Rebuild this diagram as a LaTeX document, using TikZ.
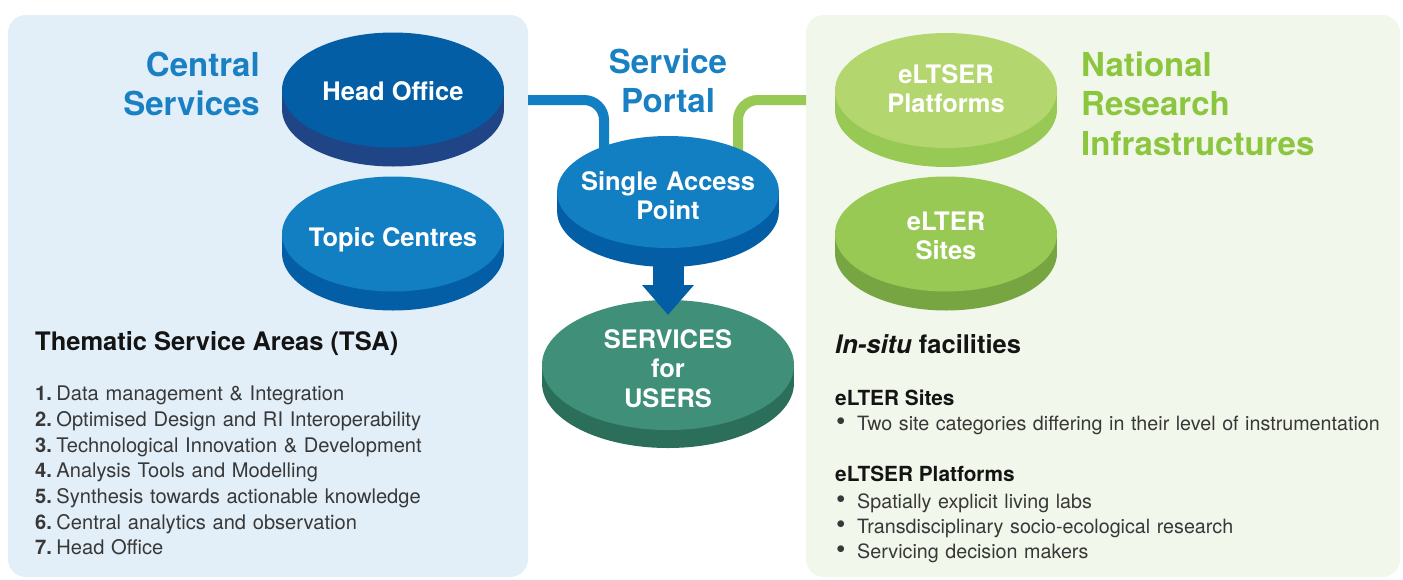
\documentclass[tikz,border=0pt]{standalone}
\usepackage{fontspec}
\setmainfont{TeX Gyre Heros}
\usetikzlibrary{arrows.meta}
\definecolor{lpbg}{HTML}{E3EFF8}
\definecolor{rpbg}{HTML}{F1F7EB}
\definecolor{dblue}{HTML}{045EA6}
\definecolor{dblueside}{HTML}{1F4586}
\definecolor{mblue}{HTML}{137FC3}
\definecolor{tblue}{HTML}{1A80C4}
\definecolor{sgreen}{HTML}{3F8F79}
\definecolor{sgreenside}{HTML}{2B6F5A}
\definecolor{lgreen}{HTML}{B4D66F}
\definecolor{lgreenside}{HTML}{98C955}
\definecolor{mgreen}{HTML}{98C955}
\definecolor{mgreenside}{HTML}{77A541}
\definecolor{tgreen}{HTML}{8CC63F}
\definecolor{bodytext}{HTML}{383838}
\definecolor{headtext}{HTML}{141414}
\newcommand\mydisc[8]{%
  \fill[#8] (#2-#4,#3) rectangle (#2+#4,#3+#6);
  \fill[#8] (#2,#3+#6) ellipse[x radius=#4, y radius=#5];
  \fill[#7] (#2,#3) ellipse[x radius=#4, y radius=#5];
  \coordinate (#1) at (#2,#3);
  \coordinate (#1-t) at (#2,#3-#5);
  \coordinate (#1-b) at (#2,#3+#6+#5);
}
\newcommand\bul{\makebox[22pt][l]{\hspace{1pt}\raisebox{-0.5pt}{\fontsize{27}{27}\selectfont\textbullet}}}
\newcommand\num[1]{\textbf{#1.}\hspace{4.5pt}}
\tikzset{
  panelbox/.style={rounded corners=18pt, inner sep=0pt, outer sep=0pt, anchor=north west},
  link/.style={line width=10pt, rounded corners=20pt},
  fatarrow/.style={dblue, line width=31pt, -{Triangle[width=50pt,length=30pt]}},
  bigtitle/.style={font=\fontsize{33}{39.5}\selectfont\bfseries, inner sep=0pt},
  disclabel/.style={font=\fontsize{25.5}{29.5}\selectfont\bfseries, text=white, inner sep=0pt, anchor=base},
  heading/.style={font=\fontsize{25.5}{30}\selectfont\bfseries, text=headtext, inner sep=0pt, anchor=base west},
  subhead/.style={font=\fontsize{20.8}{25}\selectfont\bfseries, text=headtext, inner sep=0pt, anchor=base west},
  listl/.style={font=\fontsize{20.1}{25.7}\selectfont, text=bodytext, inner sep=0pt, anchor=base west, align=left, text width=480pt},
  listr/.style={font=\fontsize{19.7}{25}\selectfont, text=bodytext, inner sep=0pt, anchor=base west, align=left, text width=580pt},
}
\begin{document}
\begin{tikzpicture}[x=1pt, y=-1pt]
\useasboundingbox[fill=white] (0,0) rectangle (1403,579);
% panels
\node[panelbox, fill=lpbg, minimum width=520pt, minimum height=562pt] (lp) at (8,15) {};
\node[panelbox, fill=rpbg, minimum width=594pt, minimum height=562pt] (rp) at (806,15) {};
% disc centre for links
\coordinate (sapc) at (668,192);
% links
\draw[link, mblue] (lp.east |- 0,100) -| ([xshift=-64pt]sapc);
\draw[link, mgreen] (rp.west |- 0,100) -| ([xshift=70pt]sapc);
% discs
\mydisc{ho}{393}{90}{111}{57.5}{19}{dblue}{dblueside}
\mydisc{tc}{393}{234}{111}{57.5}{19}{mblue}{dblue}
\mydisc{sfu}{668}{365}{126}{65}{18}{sgreen}{sgreenside}
\mydisc{sap}{668}{192}{111}{56}{19}{mblue}{dblue}
\mydisc{ep}{946}{90.5}{111}{57.5}{19}{lgreen}{lgreenside}
\mydisc{es}{946}{234}{111}{57.5}{19}{mgreen}{mgreenside}
% arrow
\draw[fatarrow] ([yshift=4pt]sap-b) -- ([yshift=-15pt]sfu-t);
% disc labels
\node[disclabel] (hol) at (393,100) {Head Office};
\node[disclabel] (tcl) at (393,246) {Topic Centres};
\node[disclabel, text width=220pt, align=center] (sapl) at (668,190) {Single Access\\Point};
\node[disclabel, text width=220pt, align=center] (sful) at (668,348) {SERVICES\\for\\USERS};
\node[disclabel, text width=220pt, align=center] (epl) at (946,83) {eLTSER\\Platforms};
\node[disclabel, text width=220pt, align=center] (esl) at (946,230) {eLTER\\Sites};
% titles
\node[bigtitle, text=tblue, anchor=base east, align=right, text width=240pt] (cs) at (260,76) {Central\\Services};
\node[bigtitle, text=tblue, anchor=base, align=center, text width=240pt] (sp) at (668,73) {Service\\Portal};
\node[bigtitle, text=tgreen, anchor=base west, align=left, text width=300pt] (nri) at (1081,76) {National\\Research\\Infrastructures};
% left text
\node[heading] (tsa) at (35,350) {Thematic Service Areas (TSA)};
\node[listl] (tsalist) at (35,400.7) {\num{1}Data management \& Integration\\
\num{2}Optimised Design and RI Interoperability\\
\num{3}Technological Innovation \& Development\\
\num{4}Analysis Tools and Modelling\\
\num{5}Synthesis towards actionable knowledge\\
\num{6}Central analytics and observation\\
\num{7}Head Office};
% right text
\node[heading] (insitu) at (835,353) {\textit{In-situ} facilities};
\node[subhead] (sitesh) at (835,405) {eLTER Sites};
\node[listr] (sitesl) at (835,430) {\bul Two site categories differing in their level of instrumentation};
\node[subhead] (plath) at (835,481.7) {eLTSER Platforms};
\node[listr] (platl) at (835,508) {\bul Spatially explicit living labs\\
\bul Transdisciplinary socio-ecological research\\
\bul Servicing decision makers};
\end{tikzpicture}
\end{document}
